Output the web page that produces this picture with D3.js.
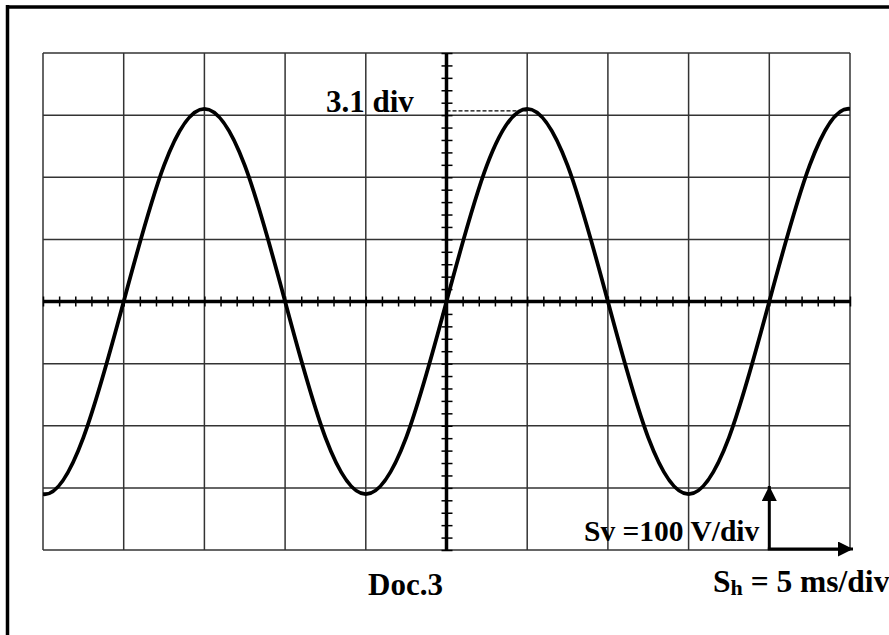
<!DOCTYPE html>
<html>
<head>
<meta charset="utf-8">
<script src="https://cdn.jsdelivr.net/npm/d3@7"></script>
<style>
  body { margin: 0; background: #fff; }
  text { font-family: "Liberation Serif", "Times New Roman", serif; font-weight: bold; fill: #000; }
</style>
</head>
<body>
<div id="chart"></div>
<script>
// time in ms (5 ms/div), voltage in V (100 V/div), read every half division
// (one extra sample past each edge so the trace leaves the screen smoothly)
var times = [-27.5, -25, -22.5, -20, -17.5, -15, -12.5, -10, -7.5, -5, -2.5, 0,
             2.5, 5, 7.5, 10, 12.5, 15, 17.5, 20, 22.5, 25, 27.5];
var volts = [-219, -310, -219, 0, 219, 310, 219, 0, -219, -310, -219, 0,
             219, 310, 219, 0, -219, -310, -219, 0, 219, 310, 219];

var xMajor = [-25, -20, -15, -10, -5, 0, 5, 10, 15, 20, 25];
var yMajor = [-400, -300, -200, -100, 0, 100, 200, 300, 400];

var peakLabel = '3.1 div';
var docLabel = 'Doc.3';
var svLabel = 'Sv =100 V/div';

var svgWidth = 889;
var svgHeight = 635;

var svg = d3.select('#chart').append('svg')
  .attr('width', svgWidth)
  .attr('height', svgHeight);

// grid area
var grid = { left: 43, right: 850, top: 53, bottom: 550 };

var xScale = d3.scaleLinear().domain([-25, 25]).range([grid.left, grid.right]);
var yScale = d3.scaleLinear().domain([-400, 400]).range([grid.bottom, grid.top]);

var defs = svg.append('defs');
defs.append('clipPath').attr('id', 'screen')
  .append('rect')
  .attr('x', grid.left).attr('y', grid.top - 10)
  .attr('width', grid.right - grid.left).attr('height', grid.bottom - grid.top + 20);

// outer frame (top and left edges only visible)
svg.append('line')
  .attr('x1', 6).attr('x2', svgWidth).attr('y1', 7).attr('y2', 7)
  .attr('stroke', '#000').attr('stroke-width', 3.5);
svg.append('line')
  .attr('x1', 7.5).attr('x2', 7.5).attr('y1', 5).attr('y2', svgHeight)
  .attr('stroke', '#000').attr('stroke-width', 3.5);

// grid lines
svg.append('g').selectAll('line')
  .data(xMajor)
  .enter().append('line')
  .attr('x1', d => xScale(d)).attr('x2', d => xScale(d))
  .attr('y1', grid.top).attr('y2', grid.bottom)
  .attr('stroke', '#333').attr('stroke-width', 1.5);

svg.append('g').selectAll('line')
  .data(yMajor)
  .enter().append('line')
  .attr('x1', grid.left).attr('x2', grid.right)
  .attr('y1', d => yScale(d)).attr('y2', d => yScale(d))
  .attr('stroke', '#333').attr('stroke-width', 1.5);

// centre axes with minor ticks (5 per division)
var xAxis = d3.axisBottom(xScale).ticks(50).tickSize(10).tickFormat('');
var yAxis = d3.axisRight(yScale).ticks(40).tickSize(11).tickFormat('');

var gx = svg.append('g')
  .attr('transform', `translate(0, ${yScale(0) - 5})`)
  .call(xAxis);
gx.select('.domain').remove();
gx.selectAll('.tick line').attr('stroke', '#000').attr('stroke-width', 1.5);

var gy = svg.append('g')
  .attr('transform', `translate(${xScale(0) - 5}, 0)`)
  .call(yAxis);
gy.select('.domain').remove();
gy.selectAll('.tick line').attr('stroke', '#000').attr('stroke-width', 1.5);

svg.append('line')
  .attr('x1', grid.left).attr('x2', grid.right)
  .attr('y1', yScale(0)).attr('y2', yScale(0))
  .attr('stroke', '#000').attr('stroke-width', 3.5);
svg.append('line')
  .attr('x1', xScale(0)).attr('x2', xScale(0))
  .attr('y1', grid.top).attr('y2', grid.bottom)
  .attr('stroke', '#000').attr('stroke-width', 3.5);

// dashed marker to the peak
svg.append('line')
  .attr('x1', xScale(0)).attr('x2', xScale(5))
  .attr('y1', yScale(310) + 2).attr('y2', yScale(310) + 2)
  .attr('stroke', '#000').attr('stroke-width', 1.2)
  .attr('stroke-dasharray', '4,2');

// signal
var line = d3.line()
  .x((d, i) => xScale(times[i]))
  .y(d => yScale(d))
  .curve(d3.curveNatural);

svg.append('path')
  .datum(volts)
  .attr('d', line)
  .attr('clip-path', 'url(#screen)')
  .attr('fill', 'none')
  .attr('stroke', '#000')
  .attr('stroke-width', 3.8);

// arrows for scales
defs.append('marker')
  .attr('id', 'head')
  .attr('viewBox', '0 0 10 10')
  .attr('refX', 10).attr('refY', 5)
  .attr('markerWidth', 5).attr('markerHeight', 5)
  .attr('markerUnits', 'strokeWidth')
  .attr('orient', 'auto')
  .append('path').attr('d', 'M0,0 L10,5 L0,10 Z').attr('fill', '#000');

svg.append('line')
  .attr('x1', xScale(20)).attr('x2', xScale(20))
  .attr('y1', grid.bottom).attr('y2', 486)
  .attr('stroke', '#000').attr('stroke-width', 3)
  .attr('marker-end', 'url(#head)');
svg.append('line')
  .attr('x1', xScale(20) - 1.5).attr('x2', 853)
  .attr('y1', grid.bottom - 1).attr('y2', grid.bottom - 1)
  .attr('stroke', '#000').attr('stroke-width', 3)
  .attr('marker-end', 'url(#head)');

// labels
svg.append('text')
  .attr('x', 326).attr('y', 112)
  .attr('font-size', 31)
  .text(peakLabel);

svg.append('text')
  .attr('x', 368).attr('y', 595)
  .attr('font-size', 31)
  .text(docLabel);

svg.append('text')
  .attr('x', 584).attr('y', 541)
  .attr('font-size', 29.5)
  .text(svLabel);

var sh = svg.append('text')
  .attr('x', 713).attr('y', 592)
  .attr('font-size', 31.5);
sh.append('tspan').text('S');
sh.append('tspan').attr('font-size', 22).attr('dy', 3).text('h');
sh.append('tspan').attr('dy', -3).text(' = 5 ms/div');
</script>
</body>
</html>
